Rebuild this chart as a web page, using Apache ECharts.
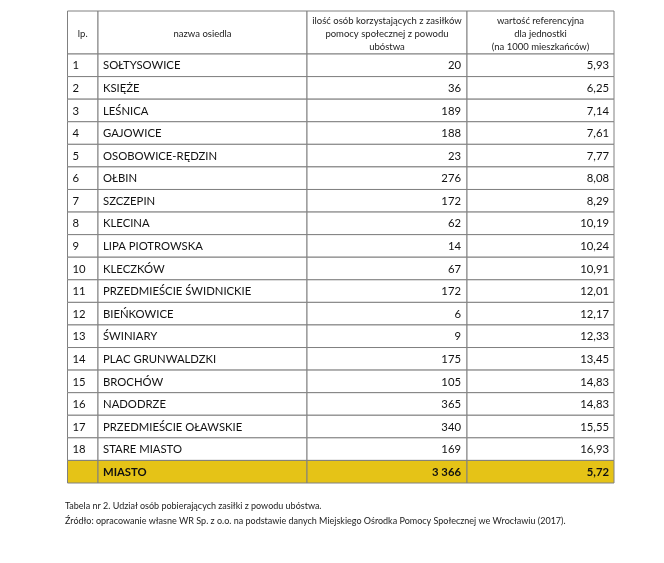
<!DOCTYPE html>
<html>
<head>
<meta charset="utf-8">
<script src="https://cdn.jsdelivr.net/npm/echarts@6/dist/echarts.min.js"></script>
<style>
html,body{margin:0;padding:0;background:#fff;}
#c{width:664px;height:563px;}
</style>
</head>
<body>
<div id="c"></div>
<script>
// ---- data ----
var lpNumbers = [1,2,3,4,5,6,7,8,9,10,11,12,13,14,15,16,17,18];
var districtNames = ['SOŁTYSOWICE','KSIĘŻE','LEŚNICA','GAJOWICE','OSOBOWICE-RĘDZIN','OŁBIN','SZCZEPIN','KLECINA','LIPA PIOTROWSKA','KLECZKÓW','PRZEDMIEŚCIE ŚWIDNICKIE','BIEŃKOWICE','ŚWINIARY','PLAC GRUNWALDZKI','BROCHÓW','NADODRZE','PRZEDMIEŚCIE OŁAWSKIE','STARE MIASTO'];
var beneficiaries = [20,36,189,188,23,276,172,62,14,67,172,6,9,175,105,365,340,169];
var refValues = [5.93,6.25,7.14,7.61,7.77,8.08,8.29,10.19,10.24,10.91,12.01,12.17,12.33,13.45,14.83,14.83,15.55,16.93];
var totalLabel = 'MIASTO';
var totalBeneficiaries = 3366;
var totalRefValue = 5.72;
var headerTexts = ['lp.', 'nazwa osiedla', 'ilość osób korzystających z zasiłków\npomocy społecznej z powodu\nubóstwa', 'wartość referencyjna\ndla jednostki\n(na 1000 mieszkańców)'];
var captionLines = ['Tabela nr 2. Udział osób pobierających zasiłki z powodu ubóstwa.', 'Źródło: opracowanie własne WR Sp. z o.o. na podstawie danych Miejskiego Ośrodka Pomocy Społecznej we Wrocławiu (2017).'];

// ---- layout (not data) ----
var colEdges = [0, 30.5, 239.5, 399.5, 546.5];
var FONT = 'Lato, "Open Sans", sans-serif';
var LINE = '#808080';
var YELLOW = '#E5C317';

function fmtInt(n){ return String(n).replace(/\B(?=(\d{3})+(?!\d))/g, ' '); }
function fmtDec(v){ return v.toFixed(2).replace('.', ','); }

var rowCats = [];
var rows = [];
for (var i = 0; i < lpNumbers.length; i++) {
  rowCats.push(String(i));
  rows.push({lp: String(lpNumbers[i]), name: districtNames[i], cnt: fmtInt(beneficiaries[i]), val: fmtDec(refValues[i]), total: false});
}
rowCats.push(String(lpNumbers.length));
rows.push({lp: '', name: totalLabel, cnt: fmtInt(totalBeneficiaries), val: fmtDec(totalRefValue), total: true});

function renderBody(params, api) {
  var idx = api.value(0);
  var r = rows[idx];
  var h = api.size([0, 1])[1];
  var cy = api.coord([0, idx])[1];
  var y0 = cy - h / 2;
  var xs = colEdges.map(function (e) { return api.coord([e, idx])[0]; });
  var children = [];
  for (var c = 0; c < 4; c++) {
    children.push({
      type: 'rect',
      shape: {x: xs[c], y: y0, width: xs[c + 1] - xs[c], height: h},
      style: {fill: r.total ? YELLOW : '#fff', stroke: LINE, lineWidth: 1}
    });
  }
  var fw = r.total ? 'bold' : 'normal';
  var fs = 11.3;
  function t(text, x, align) {
    children.push({type: 'text', style: {text: text, x: x, y: cy + 0.5, align: align, verticalAlign: 'middle', fontFamily: FONT, fontSize: fs, fontWeight: fw, fill: '#111'}});
  }
  t(r.lp, xs[0] + 5, 'left');
  t(r.name, xs[1] + 5, 'left');
  t(r.cnt, xs[3] - 6, 'right');
  t(r.val, xs[4] - 5, 'right');
  return {type: 'group', children: children};
}

function renderHeader(params, api) {
  var h = api.size([0, 1])[1];
  var cy = api.coord([0, 0])[1];
  var y0 = cy - h / 2;
  var xs = colEdges.map(function (e) { return api.coord([e, 0])[0]; });
  var children = [];
  for (var c = 0; c < 4; c++) {
    children.push({
      type: 'rect',
      shape: {x: xs[c], y: y0, width: xs[c + 1] - xs[c], height: h},
      style: {fill: '#fff', stroke: LINE, lineWidth: 1}
    });
    children.push({type: 'text', style: {text: headerTexts[c], x: (xs[c] + xs[c + 1]) / 2, y: cy + 1, align: 'center', verticalAlign: 'middle', fontFamily: FONT, fontSize: 9.5, lineHeight: 13, fill: '#222'}});
  }
  return {type: 'group', children: children};
}

var chart = echarts.init(document.getElementById('c'), null, {renderer: 'canvas'});
chart.setOption({
  animation: false,
  backgroundColor: '#fff',
  title: {
    text: captionLines.join('\n'),
    left: 60, top: 494,
    textStyle: {fontFamily: FONT, fontSize: 9, fontWeight: 'normal', color: '#222', lineHeight: 15}
  },
  grid: [
    {left: 67.5, top: 11, width: 546.5, height: 43},
    {left: 67.5, top: 54, width: 546.5, height: 429}
  ],
  xAxis: [
    {gridIndex: 0, type: 'value', min: 0, max: 546.5, show: false},
    {gridIndex: 1, type: 'value', min: 0, max: 546.5, show: false}
  ],
  yAxis: [
    {gridIndex: 0, type: 'category', data: ['h'], show: false},
    {gridIndex: 1, type: 'category', data: rowCats, inverse: true, show: false}
  ],
  series: [
    {type: 'custom', xAxisIndex: 0, yAxisIndex: 0, renderItem: renderHeader, data: [[0]], silent: true},
    {type: 'custom', xAxisIndex: 1, yAxisIndex: 1, renderItem: renderBody, data: rows.map(function (r, i) { return [i]; }), silent: true}
  ]
});
</script>
</body>
</html>
